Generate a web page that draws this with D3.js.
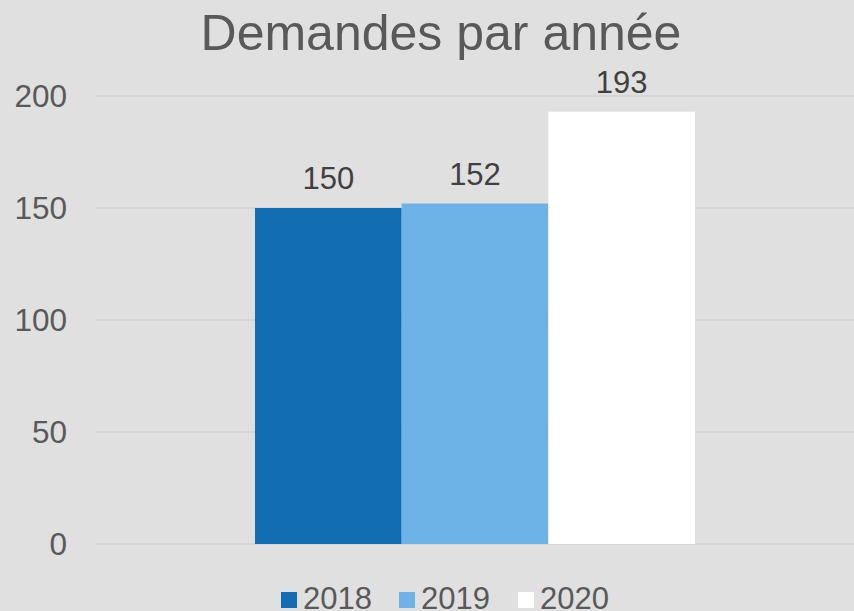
<!DOCTYPE html>
<html><head><meta charset="utf-8">
<script src="https://cdn.jsdelivr.net/npm/d3@7"></script>
<style>html,body{margin:0;padding:0;background:#e0e0e0;overflow:hidden}</style>
</head><body>
<script>
const title = "Demandes par année";
const series = ["2018", "2019", "2020"];
const values = [150, 152, 193];
const colors = ["#136db3", "#6eb3e8", "#ffffff"];
const yTicks = [0, 50, 100, 150, 200];

const W = 854, H = 611;
const font = "'Liberation Sans', Arial, sans-serif";
const txt = "#595959";
const svg = d3.select("body").append("svg").attr("width", W).attr("height", H)
  .style("background", "#e0e0e0");

const y = d3.scaleLinear().domain([0, 200]).range([544, 96]);
const xOuter = d3.scaleBand().domain(["c"]).range([95, 855]).paddingInner(0).paddingOuter(0.3636);
const xInner = d3.scaleBand().domain(series).range([0, xOuter.bandwidth()]);

// gridlines
svg.append("g").selectAll("line").data(yTicks).join("line")
  .attr("x1", 95).attr("x2", W).attr("y1", d => y(d)).attr("y2", d => y(d))
  .attr("stroke", "#d6d6d6").attr("stroke-width", 2);

// axis labels
const yAxis = d3.axisLeft(y).tickValues(yTicks).tickSize(0).tickPadding(0);
const gy = svg.append("g").attr("transform", "translate(67,0)").call(yAxis);
gy.select(".domain").remove();
gy.selectAll("text").attr("font-family", font).attr("font-size", 31.5).attr("fill", txt);

// bars
const gx = xOuter("c");
svg.append("g").selectAll("rect").data(values).join("rect")
  .attr("x", (d, i) => gx + xInner(series[i]))
  .attr("width", xInner.bandwidth())
  .attr("y", d => y(d)).attr("height", d => y(0) - y(d))
  .attr("fill", (d, i) => colors[i]);

// data labels
svg.append("g").selectAll("text").data(values).join("text")
  .attr("x", (d, i) => gx + xInner(series[i]) + xInner.bandwidth() / 2)
  .attr("y", d => y(d) - 19)
  .attr("text-anchor", "middle").attr("font-family", font).attr("font-size", 31)
  .attr("fill", "#404040").text(d => d);

// title
svg.append("text").attr("x", 441).attr("y", 50).attr("text-anchor", "middle")
  .attr("font-family", font).attr("font-size", 50).attr("fill", txt).text(title);

// legend
const legX = [281, 399, 518];
const lg = svg.append("g").selectAll("g").data(series).join("g")
  .attr("transform", (d, i) => `translate(${legX[i]},0)`);
lg.append("rect").attr("x", 0).attr("y", 592).attr("width", 16).attr("height", 16)
  .attr("fill", (d, i) => colors[i]);
lg.append("text").attr("x", 22).attr("y", 609).attr("font-family", font)
  .attr("font-size", 31).attr("fill", txt).text(d => d);
</script>
</body></html>
